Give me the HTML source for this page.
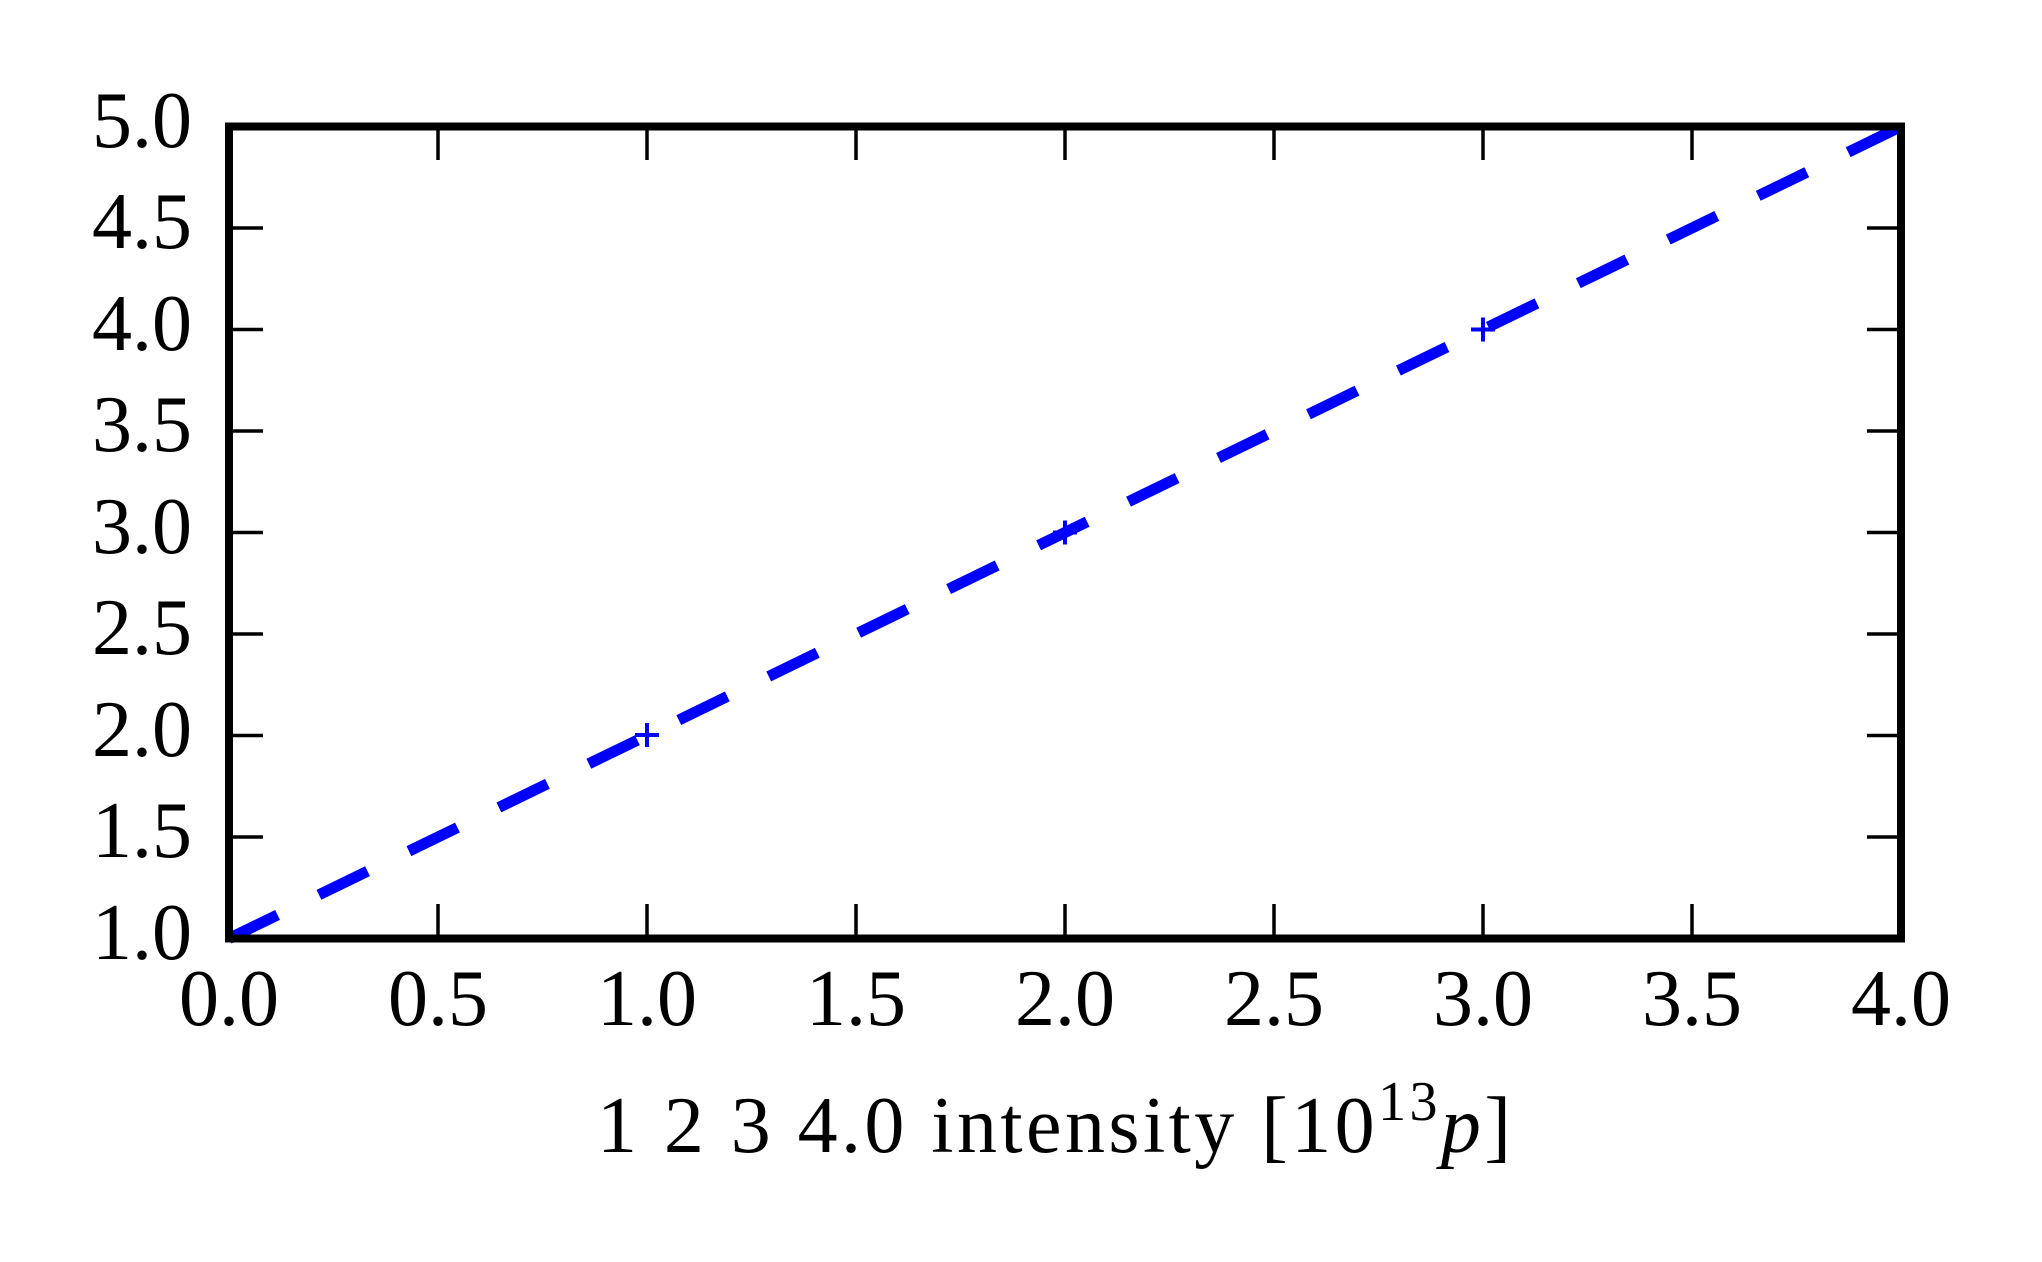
<!DOCTYPE html>
<html><head><meta charset="utf-8"><style>
html,body{margin:0;padding:0;background:#fff;}
svg{display:block;}
text{font-family:"Liberation Serif",serif;font-size:80px;fill:#000;}
</style></head><body>
<svg width="2042" height="1262" viewBox="0 0 2042 1262" xmlns="http://www.w3.org/2000/svg">
<rect width="2042" height="1262" fill="#fff"/>
<line x1="229" y1="938.5" x2="1901" y2="126.5" stroke="#0000ff" stroke-width="11" stroke-dasharray="54 46" stroke-linecap="butt"/>
<g stroke="#0000ff" stroke-width="4">
<line x1="635" y1="735" x2="659" y2="735"/><line x1="647" y1="723" x2="647" y2="747"/>
<line x1="1053" y1="532.5" x2="1077" y2="532.5"/><line x1="1065" y1="520.5" x2="1065" y2="544.5"/>
<line x1="1471" y1="329.5" x2="1495" y2="329.5"/><line x1="1483" y1="317.5" x2="1483" y2="341.5"/>
</g>
<g stroke="#000" stroke-width="3.5">
<line x1="438" y1="126" x2="438" y2="160"/><line x1="438" y1="938" x2="438" y2="904"/>
<line x1="647" y1="126" x2="647" y2="160"/><line x1="647" y1="938" x2="647" y2="904"/>
<line x1="856" y1="126" x2="856" y2="160"/><line x1="856" y1="938" x2="856" y2="904"/>
<line x1="1065" y1="126" x2="1065" y2="160"/><line x1="1065" y1="938" x2="1065" y2="904"/>
<line x1="1274" y1="126" x2="1274" y2="160"/><line x1="1274" y1="938" x2="1274" y2="904"/>
<line x1="1483" y1="126" x2="1483" y2="160"/><line x1="1483" y1="938" x2="1483" y2="904"/>
<line x1="1692" y1="126" x2="1692" y2="160"/><line x1="1692" y1="938" x2="1692" y2="904"/>
<line x1="229" y1="228" x2="263" y2="228"/><line x1="1901" y1="228" x2="1867" y2="228"/>
<line x1="229" y1="329.5" x2="263" y2="329.5"/><line x1="1901" y1="329.5" x2="1867" y2="329.5"/>
<line x1="229" y1="431" x2="263" y2="431"/><line x1="1901" y1="431" x2="1867" y2="431"/>
<line x1="229" y1="532.5" x2="263" y2="532.5"/><line x1="1901" y1="532.5" x2="1867" y2="532.5"/>
<line x1="229" y1="634" x2="263" y2="634"/><line x1="1901" y1="634" x2="1867" y2="634"/>
<line x1="229" y1="735.5" x2="263" y2="735.5"/><line x1="1901" y1="735.5" x2="1867" y2="735.5"/>
<line x1="229" y1="837" x2="263" y2="837"/><line x1="1901" y1="837" x2="1867" y2="837"/>
</g>
<rect x="229" y="126.5" width="1672" height="812" fill="none" stroke="#000" stroke-width="8"/>
<g text-anchor="end">
<text x="192" y="147">5.0</text>
<text x="192" y="248">4.5</text>
<text x="192" y="350">4.0</text>
<text x="192" y="451">3.5</text>
<text x="192" y="553">3.0</text>
<text x="192" y="654">2.5</text>
<text x="192" y="756">2.0</text>
<text x="192" y="857">1.5</text>
<text x="192" y="959">1.0</text>
</g>
<g text-anchor="middle">
<text x="229" y="1025">0.0</text>
<text x="438" y="1025">0.5</text>
<text x="647" y="1025">1.0</text>
<text x="856" y="1025">1.5</text>
<text x="1065" y="1025">2.0</text>
<text x="1274" y="1025">2.5</text>
<text x="1483" y="1025">3.0</text>
<text x="1692" y="1025">3.5</text>
<text x="1901" y="1025">4.0</text>
</g>
<text x="597" y="1152" textLength="914" lengthAdjust="spacing">1 2 3 4.0 intensity [10<tspan font-size="56" dy="-32">13</tspan><tspan dy="32" font-style="italic">p</tspan>]</text>
</svg>
</body></html>
